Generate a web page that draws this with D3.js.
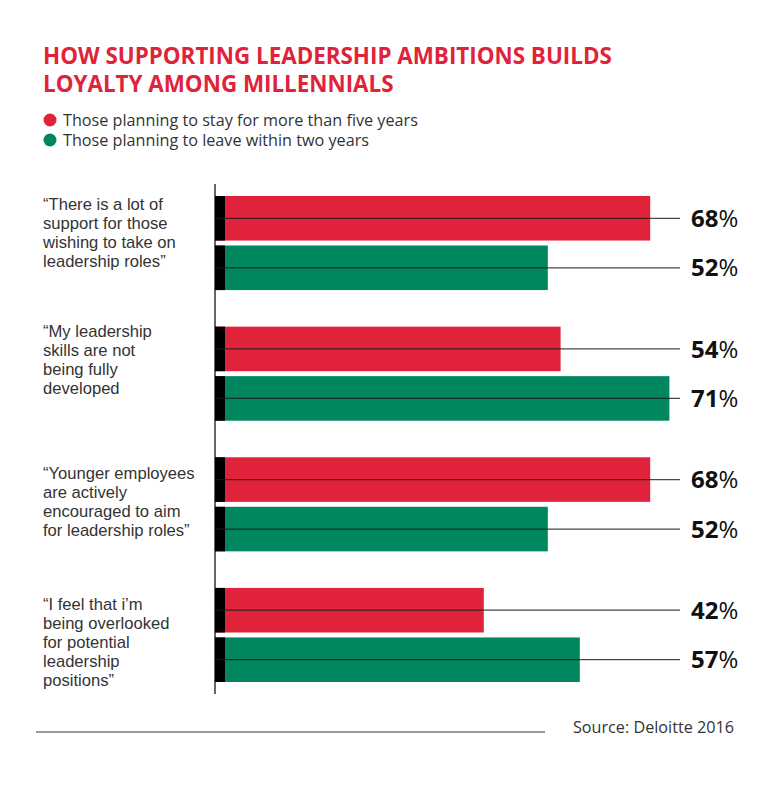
<!DOCTYPE html>
<html>
<head>
<meta charset="utf-8">
<script src="https://cdn.jsdelivr.net/npm/d3@7"></script>
<style>
  html, body { margin: 0; padding: 0; background: #fff; }
  svg { display: block; }
</style>
</head>
<body>
<svg id="chart" width="782" height="790"></svg>
<script>
const titleLines = ["HOW SUPPORTING LEADERSHIP AMBITIONS BUILDS", "LOYALTY AMONG MILLENNIALS"];
const seriesNames = ["Those planning to stay for more than five years", "Those planning to leave within two years"];
const categories = [
  "“There is a lot of\nsupport for those\nwishing to take on\nleadership roles”",
  "“My leadership\nskills are not\nbeing fully\ndeveloped",
  "“Younger employees\nare actively\nencouraged to aim\nfor leadership roles”",
  "“I feel that i’m\nbeing overlooked\nfor potential\nleadership\npositions”"
];
const stayValues = [68, 54, 68, 42];
const leaveValues = [52, 71, 52, 57];
const sourceText = "Source: Deloitte 2016";

const colors = { stay: "#E0233B", leave: "#00875F" };
const seriesKeys = ["stay", "leave"];
const data = categories.map((c, i) => ({ category: c, stay: stayValues[i], leave: leaveValues[i] }));

const svg = d3.select("#chart");
const bodyFont = "'Open Sans', 'Lato', sans-serif";
const labelFont = "'Liberation Sans', Arial, sans-serif";

// Title
const title = svg.append("text").attr("x", 43).attr("y", 64)
  .attr("fill", "#E0233B").attr("font-family", bodyFont).attr("font-weight", 700)
  .attr("font-size", 22.4);
titleLines.forEach((t, i) => title.append("tspan").attr("x", 43).attr("dy", i === 0 ? 0 : 28).text(t));

// Legend
const legend = svg.append("g");
seriesKeys.forEach((k, i) => {
  const g = legend.append("g").attr("transform", `translate(0, ${120 + i * 20})`);
  g.append("circle").attr("cx", 50).attr("cy", 0).attr("r", 6.5).attr("fill", colors[k]);
  g.append("text").attr("x", 63).attr("y", 0).attr("dy", "0.35em")
    .attr("font-family", bodyFont).attr("font-size", 16.2).attr("fill", "#333")
    .text(seriesNames[i]);
});

// Scales
const x = d3.scaleLinear().domain([0, 100]).range([215, 855]);
const y = d3.scaleBand().domain(categories).range([196, 682]).paddingInner(0.28).paddingOuter(0);
const ySub = d3.scaleBand().domain(seriesKeys).range([0, y.bandwidth()]).paddingInner(0.1);

const labelOffsets = [2, -2, 10, 10];
const lineEnd = 680;

const groups = svg.append("g").selectAll("g.group").data(data).join("g")
  .attr("class", "group")
  .attr("transform", d => `translate(0, ${y(d.category)})`);

// Category labels (one text per line)
groups.each(function(d, i) {
  const lines = d.category.split("\n");
  const g = d3.select(this);
  lines.forEach((l, j) => g.append("text")
    .attr("x", 43).attr("y", 12 + labelOffsets[i] + j * 19)
    .attr("font-family", labelFont).attr("font-size", 16.6).attr("fill", "#333")
    .text(l));
});

// Bars
groups.each(function(d) {
  const g = d3.select(this);
  seriesKeys.forEach(k => {
    const yy = ySub(k);
    const h = ySub.bandwidth();
    g.append("rect").attr("x", x(0)).attr("y", yy).attr("width", x(d[k]) - x(0)).attr("height", h)
      .attr("fill", colors[k]);
    g.append("rect").attr("x", x(0)).attr("y", yy).attr("width", 10).attr("height", h).attr("fill", "#000");
    g.append("line").attr("x1", x(0)).attr("x2", lineEnd)
      .attr("y1", yy + h / 2).attr("y2", yy + h / 2)
      .attr("stroke", "#1a1a1a").attr("stroke-opacity", 0.8).attr("stroke-width", 1.2);
    const lbl = g.append("text").attr("x", 691).attr("y", yy + h / 2).attr("dy", "0.36em")
      .attr("font-family", bodyFont).attr("font-size", 24).attr("fill", "#111");
    lbl.append("tspan").attr("font-weight", 700).text(d[k]);
    lbl.append("tspan").attr("font-weight", 400).text("%");
  });
});

// Vertical axis line
svg.append("line").attr("x1", x(0)).attr("x2", x(0)).attr("y1", 184).attr("y2", 694)
  .attr("stroke", "#000").attr("stroke-width", 1.2);

// Source
svg.append("line").attr("x1", 36).attr("x2", 545).attr("y1", 732).attr("y2", 732)
  .attr("stroke", "#9a9a9a").attr("stroke-width", 2);
svg.append("text").attr("x", 734).attr("y", 727).attr("dy", "0.35em").attr("text-anchor", "end")
  .attr("font-family", bodyFont).attr("font-size", 16.2).attr("fill", "#333").text(sourceText);
</script>
</body>
</html>
